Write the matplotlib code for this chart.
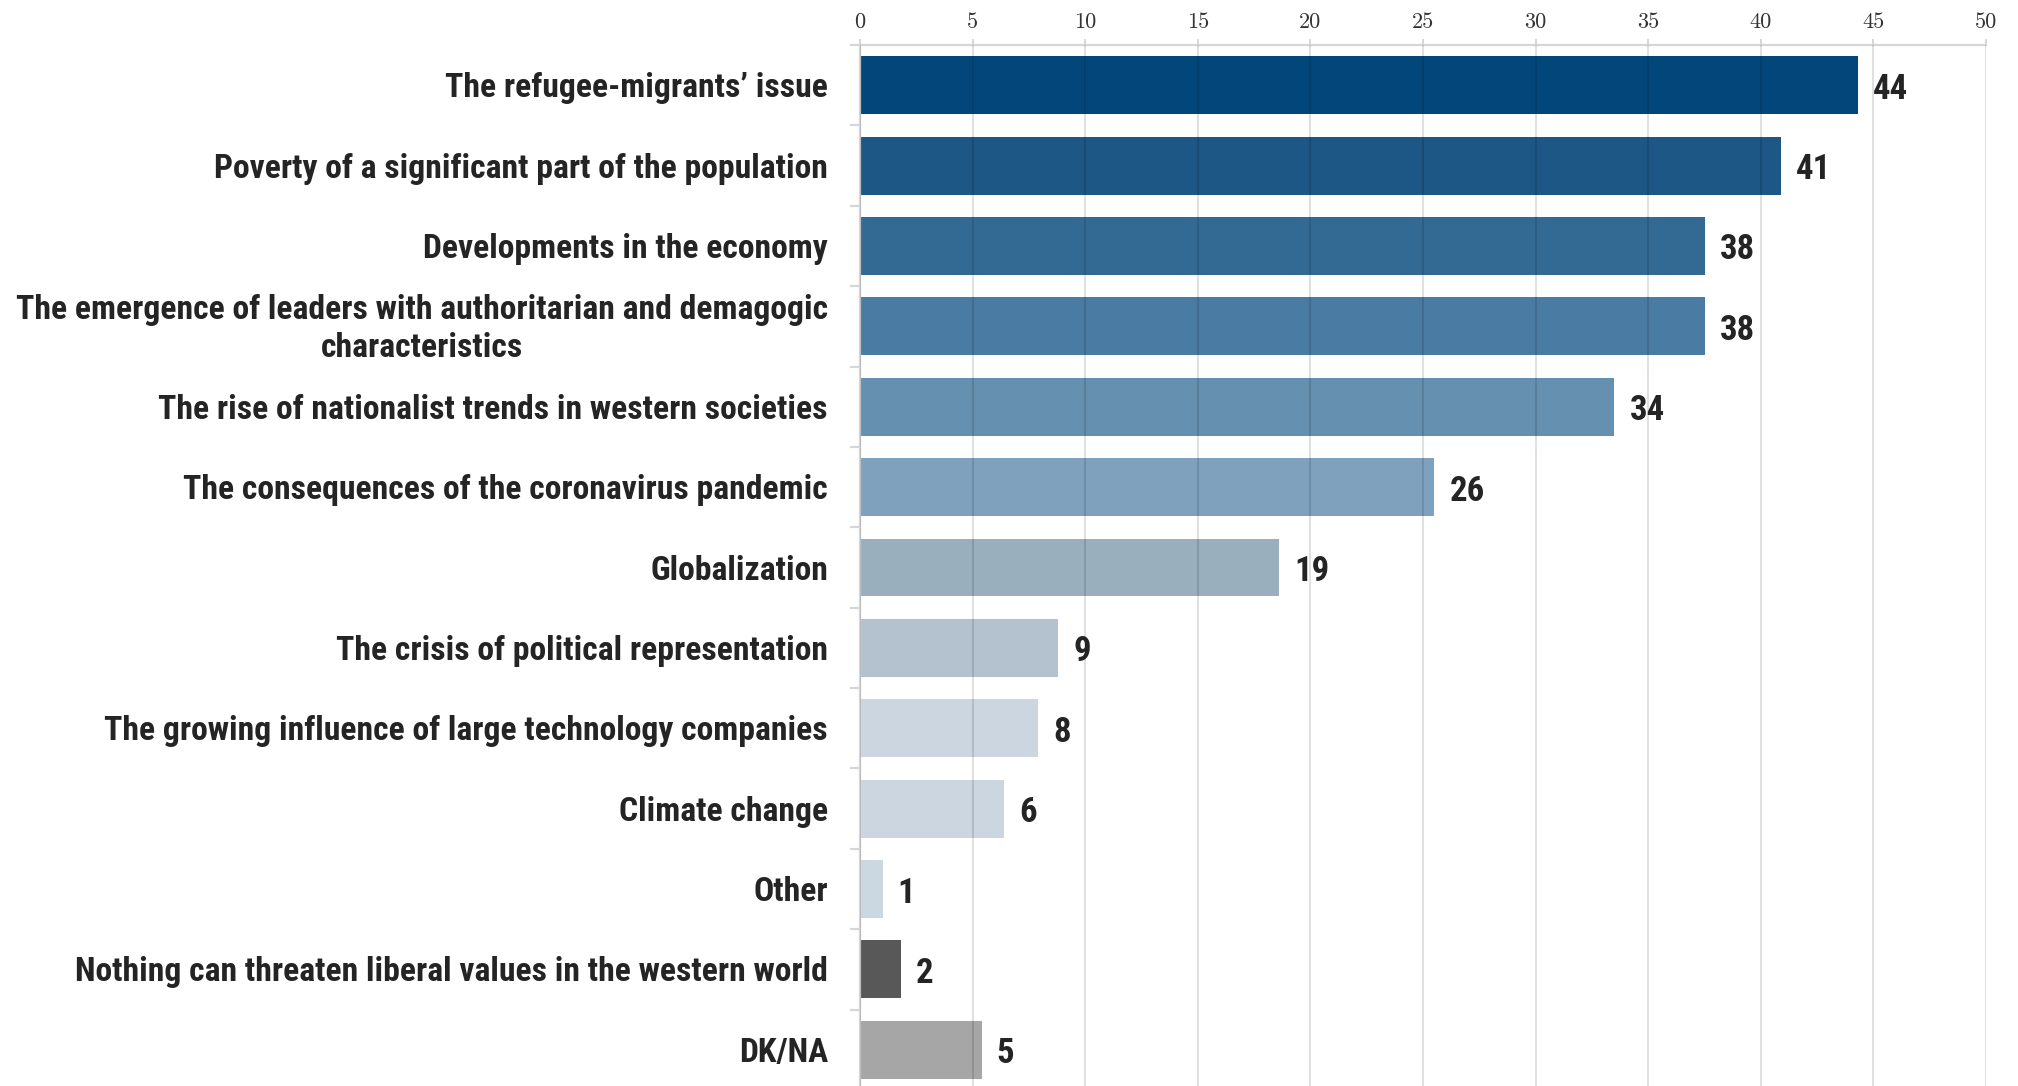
import matplotlib
matplotlib.use("Agg")
import matplotlib.pyplot as plt

categories = [
    "The refugee-migrants\u2019 issue",
    "Poverty of a significant part of the population",
    "Developments in the economy",
    "The emergence of leaders with authoritarian and demagogic\ncharacteristics",
    "The rise of nationalist trends in western societies",
    "The consequences of the coronavirus pandemic",
    "Globalization",
    "The crisis of political representation",
    "The growing influence of large technology companies",
    "Climate change",
    "Other",
    "Nothing can threaten liberal values in the western world",
    "DK/NA",
]
values = [44.3, 40.9, 37.5, 37.5, 33.5, 25.5, 18.6, 8.8, 7.9, 6.4, 1.0, 1.8, 5.4]
value_labels = ["44", "41", "38", "38", "34", "26", "19", "9", "8", "6", "1", "2", "5"]
colors = ["#03477a", "#1c5785", "#336a94", "#4a7ca3", "#6590b0", "#7fa1bd",
          "#9aafbd", "#b4c2d0", "#cbd6e0", "#cbd6e0", "#cbd7e1", "#585858", "#a6a6a6"]
xticks = [0, 5, 10, 15, 20, 25, 30, 35, 40, 45, 50]

label_font = ["Roboto Condensed", "DejaVu Sans"]
W, H = 2018, 1086
fig = plt.figure(figsize=(W / 100, H / 100), dpi=100)
ax = fig.add_axes([860 / W, (H - 1090) / H, (1986 - 860) / W, (1090 - 45) / H])

y = list(range(len(categories)))
ax.barh(y, values, height=0.72, color=colors, zorder=2)

ax.set_ylim(len(categories) - 0.5, -0.5)
ax.set_xlim(0, 50)

# top axis
ax.xaxis.tick_top()
ax.set_xticks(xticks)
ax.set_xticklabels([str(t) for t in xticks], fontfamily="cmr10", fontsize=16, color="#333333")
ax.tick_params(axis="x", length=4.5, width=1.4, color="#d6d6d6", pad=5)
ax.grid(axis="x", color="black", alpha=0.12, linewidth=1.5, zorder=3)
ax.set_axisbelow(False)

# left ticks between categories
ax.set_yticks([i - 0.5 for i in range(len(categories) + 1)])
ax.set_yticklabels([])
ax.tick_params(axis="y", length=7, width=1.6, color="#d6d6d6")

for s in ["right", "bottom"]:
    ax.spines[s].set_visible(False)
for s in ["top", "left"]:
    ax.spines[s].set_color("#d6d6d6")
    ax.spines[s].set_linewidth(1.6)

# category labels
for i, cat in enumerate(categories):
    ax.annotate(cat, xy=(0, i), xycoords=("axes fraction", "data"),
                xytext=(-32, -3), textcoords="offset pixels",
                ha="right", va="center", multialignment="center",
                fontfamily=label_font, fontweight="bold", fontsize=24.2,
                color="#242424", linespacing=1.25)

# value labels
for i, (v, lab) in enumerate(zip(values, value_labels)):
    ax.annotate(lab, xy=(v, i), xytext=(15, -4), textcoords="offset pixels",
                ha="left", va="center", fontfamily=label_font, fontweight="bold",
                fontsize=25, color="#242424")

fig.savefig("out.png", dpi=100)
